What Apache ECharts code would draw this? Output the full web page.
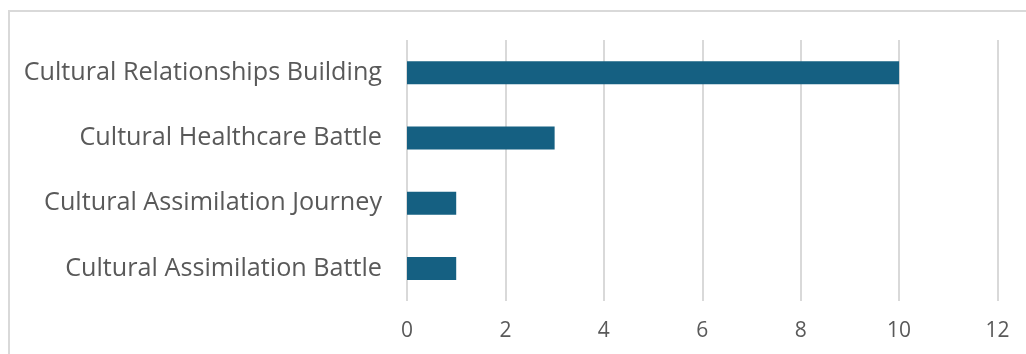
<!DOCTYPE html>
<html>
<head>
<meta charset="utf-8">
<script src="https://cdn.jsdelivr.net/npm/echarts@6/dist/echarts.min.js"></script>
<style>
  html, body { margin: 0; padding: 0; background: #fff; }
  #chart { width: 1026px; height: 354px; }
</style>
</head>
<body>
<div id="chart"></div>
<script>
// Categories listed bottom-to-top (ECharts draws the first category at the bottom)
const categories = [
  'Cultural Assimilation Battle',
  'Cultural Assimilation Journey',
  'Cultural Healthcare Battle',
  'Cultural Relationships Building'
];
const counts = [1, 1, 3, 10];
const xTicks = { min: 0, max: 12, interval: 2 };

const chart = echarts.init(document.getElementById('chart'), null, { renderer: 'canvas' });

chart.setOption({
  animation: false,
  backgroundColor: '#ffffff',
  graphic: [{
    type: 'rect',
    shape: { x: 9, y: 11, width: 1100, height: 400 },
    style: { fill: 'none', stroke: '#d9d9d9', lineWidth: 2 },
    silent: true
  }],
  grid: { left: 407, right: 28.5, top: 40, bottom: 53, containLabel: false },
  xAxis: {
    type: 'value',
    min: xTicks.min,
    max: xTicks.max,
    interval: xTicks.interval,
    axisLine: { show: false },
    axisTick: { show: false },
    splitLine: { show: true, lineStyle: { color: '#d9d9d9', width: 2 } },
    axisLabel: {
      color: '#595959',
      fontSize: 21,
      fontFamily: 'Open Sans',
      margin: 20
    }
  },
  yAxis: {
    type: 'category',
    data: categories,
    axisLine: { show: false },
    axisTick: { show: false },
    splitLine: { show: false },
    axisLabel: {
      color: '#595959',
      fontSize: 25.2,
      fontFamily: 'Open Sans',
      margin: 25
    }
  },
  series: [{
    type: 'bar',
    data: counts,
    barWidth: 23,
    itemStyle: { color: '#156082' }
  }]
});
</script>
</body>
</html>
